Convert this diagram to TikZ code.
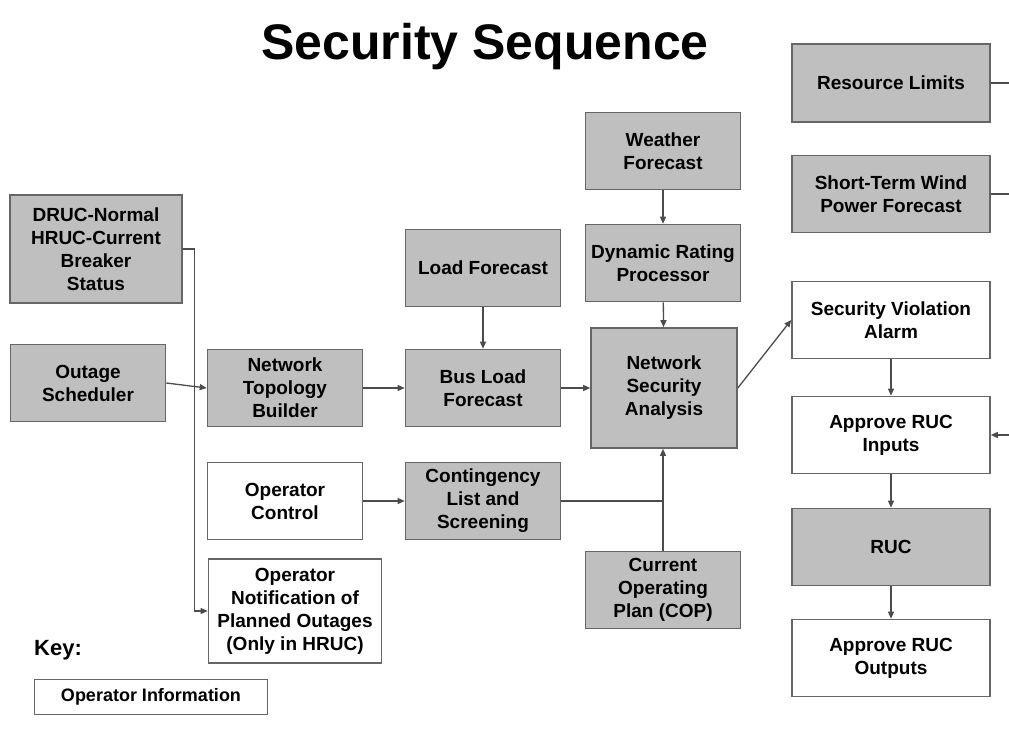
\documentclass[tikz,border=0pt]{standalone}
\usepackage{fontspec}
\setmainfont{Liberation Sans}
\usetikzlibrary{arrows.meta}
\begin{document}
\begin{tikzpicture}[x=1pt, y=-1pt, font=\fontsize{19}{23}\selectfont\bfseries,
  gbox/.style={draw=black!60, line width=1.6pt, fill=black!25, align=center, inner sep=0pt, minimum width=155pt, minimum height=77pt},
  wbox/.style={gbox, fill=white},
  wide/.style={minimum width=198pt},
  link/.style={draw=black!70, line width=1.3pt},
  arr/.style={link, -{Triangle[length=7pt, width=6pt]}}]
\useasboundingbox (0,0) rectangle (1009,731);
% Security sequence blocks
\node (title) at (485,47) {\fontsize{50}{56}\selectfont Security Sequence};
\node[gbox, minimum width=172pt, minimum height=108pt] (druc) at (96,249) {DRUC-Normal\\HRUC-Current\\Breaker\\Status};
\node[gbox] (outage) at (88,383) {Outage\\Scheduler};
\node[gbox] (ntb) at (285,388) {Network\\Topology\\Builder};
\node[gbox] (loadf) at (483,268) {Load Forecast};
\node[gbox] (busload) at (483,388) {Bus Load\\Forecast};
\node[gbox] (weather) at (663,151) {Weather\\Forecast};
\node[gbox] (drp) at (663,263) {Dynamic Rating\\Processor};
\node[gbox, minimum width=146pt, minimum height=120pt] (nsa) at (664,388) {Network\\Security\\Analysis};
\node[gbox, wide, minimum height=78pt] (reslim) at (891,83) {Resource Limits};
\node[gbox, wide] (wind) at (891,194) {Short-Term Wind\\Power Forecast};
\node[wbox, wide] (alarm) at (891,320) {Security Violation\\Alarm};
\node[wbox, wide] (inputs) at (891,435) {Approve RUC\\Inputs};
\node[gbox, wide] (ruc) at (891,547) {RUC};
\node[wbox, wide] (outputs) at (891,658) {Approve RUC\\Outputs};
\node[wbox] (opctrl) at (285,501) {Operator\\Control};
\node[gbox] (contin) at (483,501) {Contingency\\List and\\Screening};
\node[gbox] (cop) at (663,590) {Current\\Operating\\Plan (COP)};
\node[wbox, minimum width=173pt, minimum height=104pt] (notif) at (295,611) {Operator\\Notification of\\Planned Outages\\(Only in HRUC)};
\node (key) at (58,650) {\fontsize{22}{26}\selectfont Key:};
\node[wbox, minimum width=233pt, minimum height=35pt] (opinfo) at (151,697) {\fontsize{18}{22}\selectfont Operator Information};
\coordinate (edge) at (1009,0);
% connectors
\draw[arr] (druc.east) -| ([xshift=-13pt]notif.west) -- (notif.west);
\draw[arr] (outage.east) -- (ntb.west);
\draw[arr] (ntb) -- (busload);
\draw[arr] (loadf) -- (busload);
\draw[arr] (busload) -- (nsa);
\draw[arr] (weather) -- (drp);
\draw[arr] (drp) -- (nsa);
\draw[arr] (opctrl) -- (contin);
\draw[arr] (cop) -- (cop |- nsa.south);
\draw[link] (contin.east) -- (contin.east -| cop);
\draw[arr] (nsa.east) -- (alarm.west);
\draw[arr] (alarm) -- (inputs);
\draw[arr] (inputs) -- (ruc);
\draw[arr] (ruc) -- (outputs);
\draw[link] (reslim.east) -- (reslim.east -| edge);
\draw[link] (wind.east) -- (wind.east -| edge);
\draw[arr] (inputs.east -| edge) -- (inputs.east);
\end{tikzpicture}
\end{document}
